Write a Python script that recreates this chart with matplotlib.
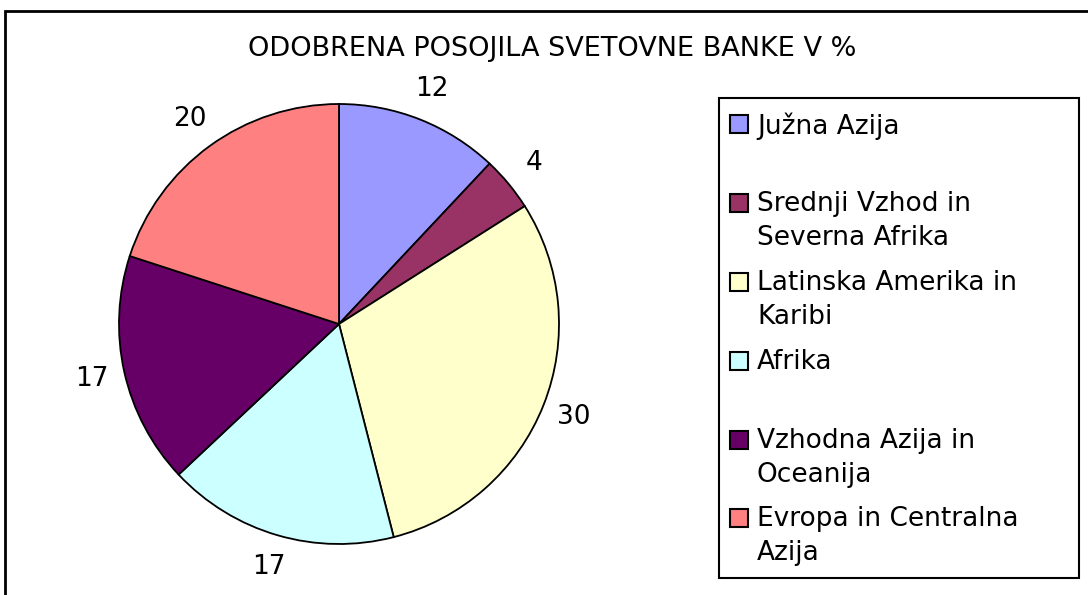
import matplotlib
matplotlib.use('Agg')
import matplotlib.pyplot as plt
from matplotlib.patches import Rectangle

# --- Data ---
regions = ['Južna Azija', 'Srednji Vzhod in\nSeverna Afrika', 'Latinska Amerika in\nKaribi',
           'Afrika', 'Vzhodna Azija in\nOceanija', 'Evropa in Centralna\nAzija']
shares = [12, 4, 30, 17, 17, 20]
colors = ['#9999FF', '#993366', '#FFFFCC', '#CCFFFF', '#660066', '#FF8080']
title = 'ODOBRENA POSOJILA SVETOVNE BANKE V %'

W, H = 1088, 595
fig = plt.figure(figsize=(W / 100, H / 100), dpi=100)
fig.patch.set_facecolor('white')

def fx(px):
    return px / W

def fy(py):
    return 1 - py / H

# outer chart frame (runs off right/bottom edge)
fig.add_artist(Rectangle((fx(4.5), -0.05), 1.1, fy(10.5) + 0.05, transform=fig.transFigure,
                         fill=False, edgecolor='black', linewidth=2))

fig.text(fx(552), fy(49), title, ha='center', va='center', fontsize=19.5)

# --- Pie ---
cx, cy, r = 339, 324, 220
ax = fig.add_axes([fx(cx - r), fy(cy + r), fx(2 * r), (2 * r) / H])
wedges, texts = ax.pie(shares, colors=colors, startangle=90, counterclock=False,
                       labels=[str(v) for v in shares], labeldistance=1.15,
                       wedgeprops=dict(edgecolor='black', linewidth=1.3),
                       textprops=dict(fontsize=19, color='black'))
for t in texts:
    t.set_ha('center')
    t.set_va('center')
ax.set_xlim(-1, 1)
ax.set_ylim(-1, 1)
ax.set_aspect('equal')
ax.axis('off')

# --- Legend (drawn by hand to keep Excel's fixed slot spacing) ---
fig.add_artist(Rectangle((fx(718.5), fy(577.5)), fx(360), 480 / H, transform=fig.transFigure,
                         fill=False, edgecolor='black', linewidth=1.5))
first_line_y = [124, 203, 282, 361, 440, 518]
for lab, col, yy in zip(regions, colors, first_line_y):
    fig.add_artist(Rectangle((fx(730), fy(yy + 9)), fx(18), 18 / H, transform=fig.transFigure,
                             facecolor=col, edgecolor='black', linewidth=1.5))
    fig.text(fx(757), fy(yy - 12), lab, ha='left', va='top', fontsize=19,
             linespacing=1.42)

fig.savefig('out.png', dpi=100)
